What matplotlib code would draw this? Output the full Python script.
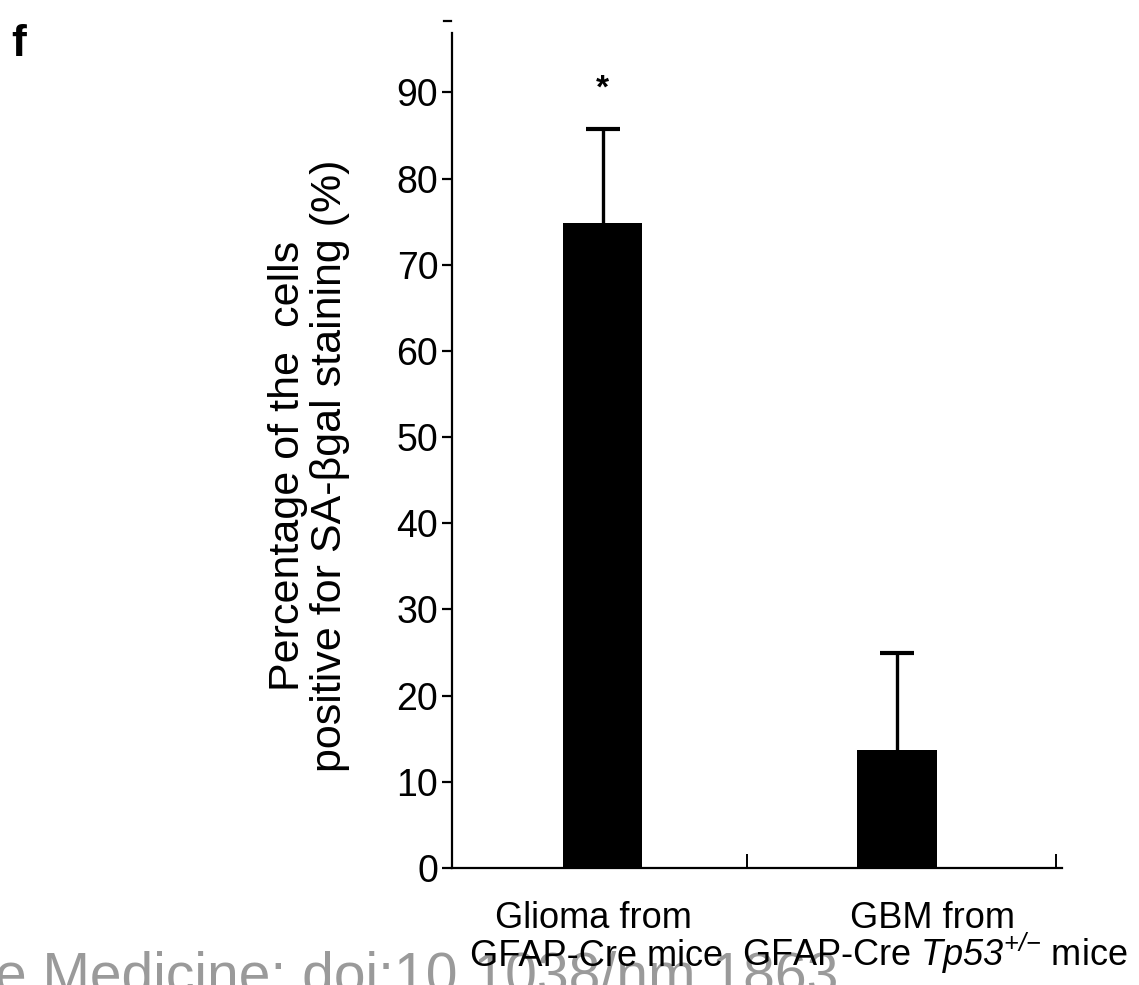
#!/usr/bin/env python3
# -*- coding: utf-8 -*-
"""SA-beta-gal positive cells bar chart (panel f)."""

import numpy as np
import matplotlib.pyplot as plt

plt.rcParams["font.family"] = ["Liberation Sans", "DejaVu Sans"]
# math is only used for the italic gene name, so make all of it italic
plt.rcParams["mathtext.fontset"] = "custom"
plt.rcParams["mathtext.rm"] = "Liberation Sans:italic"
plt.rcParams["mathtext.it"] = "Liberation Sans:italic"

# ============================
# Data
# ============================
GROUP_LINE1 = ["Glioma from", "GBM from"]
GROUP_LINE2 = ["GFAP-Cre mice", "GFAP-Cre $Tp53^{{+}/{-}}$ mice"]
MEANS = [74.9, 13.7]
ERRS = [10.9, 11.2]
YTICKS = [0, 10, 20, 30, 40, 50, 60, 70, 80, 90]
YLABEL = "Percentage of the  cells\npositive for SA-\u03b2gal staining (%)"
STAR_Y = 90.4


def main():
    fig = plt.figure(figsize=(11.39, 9.85), dpi=100)
    ax = fig.add_axes([0.397, 0.1188, 0.535, 0.8477])

    x = np.arange(len(MEANS))
    ax.bar(x, MEANS, width=0.27, color="black")
    eb = ax.errorbar(x, MEANS, yerr=[np.zeros(len(ERRS)), ERRS], fmt="none",
                     ecolor="black", elinewidth=2.4, capsize=12.5, capthick=3)
    # only the upper cap is wanted
    eb[1][0].set_visible(False)

    ax.set_xlim(-0.512, 1.56)
    ax.set_ylim(0, 96.9)
    ax.set_yticks(YTICKS)
    ax.tick_params(axis="y", direction="out", length=7, width=1.6,
                   labelsize=27, pad=3)
    # x ticks sit between groups, pointing up
    ax.set_xticks([0.49, 1.54])
    ax.set_xticklabels([])
    ax.tick_params(axis="x", direction="in", length=10, width=1.4)

    for s in ("top", "right"):
        ax.spines[s].set_visible(False)
    ax.spines["left"].set_linewidth(1.6)
    ax.spines["bottom"].set_linewidth(1.6)

    # group labels under the axis
    line1_x = [-0.03, 1.12]
    line2_x = [-0.02, 1.13]
    for i in range(len(MEANS)):
        ax.text(line1_x[i], -7.0, GROUP_LINE1[i], ha="center",
                va="baseline", fontsize=26, zorder=5)
        ax.text(line2_x[i], -11.4, GROUP_LINE2[i], ha="center",
                va="baseline", fontsize=26, zorder=5)

    ax.text(0, STAR_Y, "*", ha="center", va="center", fontsize=24,
            fontweight="bold")

    ax.set_ylabel(YLABEL, fontsize=31, linespacing=1.05)
    ax.yaxis.set_label_coords(-0.168, 0.482)

    # small stray mark above the axis top
    fig.lines.append(plt.Line2D([0.390, 0.396], [0.979, 0.979],
                                transform=fig.transFigure, color="black",
                                linewidth=1.6))

    fig.text(0.010, 0.955, "f", fontsize=32, fontweight="bold", va="center")

    # watermark, behind the labels
    fig.text(-0.004, -0.008, "e Medicine: doi:10.1038/nm.1863", fontsize=41,
             color="#9a9a9a", va="baseline", ha="left", zorder=-1)

    fig.savefig("out.png", dpi=100, facecolor="white")
    plt.close(fig)


if __name__ == "__main__":
    main()
